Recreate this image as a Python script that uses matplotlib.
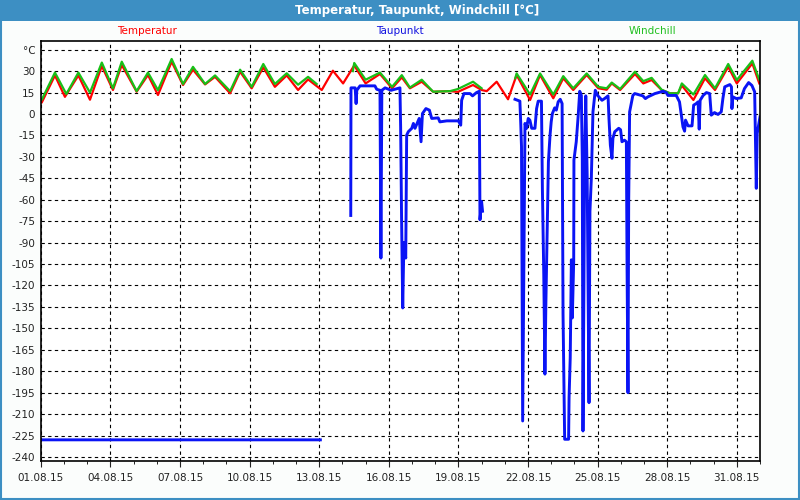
import matplotlib
matplotlib.use("Agg")
import matplotlib.pyplot as plt
import matplotlib.dates as mdates
from matplotlib.patches import Rectangle
import numpy as np
import pandas as pd

start = pd.Timestamp("2015-08-01")
nan = np.nan

# Temperatur (red), times in days since 01.08.15 00:00
temp_days = [0.0, 0.04, 0.61, 1.04, 1.62, 2.12, 2.63, 3.11, 3.49, 4.13, 4.62, 5.05,
             5.64, 6.13, 6.56, 7.08, 7.51, 8.16, 8.59, 9.09, 9.59, 10.09, 10.60,
             11.09, 11.52, 12.11, 12.59, 13.03, 13.51, 14.0, 14.62, 15.14, 15.56,
             15.91, 16.42, 16.91, 17.64, 17.98, 18.63, 19.00, 19.22, 19.65, 20.14,
             20.51, 21.09, 21.52, 22.09, 22.52, 22.95, 23.53, 24.03, 24.39, 24.61,
             24.97, 25.61, 25.97, 26.33, 26.76, 27.12, 27.47, 27.63, 28.13, 28.63,
             29.06, 29.63, 30.0, 30.67, 30.97]
temp_vals = [8.6, 8.0, 27.0, 12.0, 27.0, 10.0, 33.6, 16.8, 34.3, 15.6, 27.3, 13.3,
             36.6, 20.3, 31.0, 20.7, 26.0, 14.5, 29.6, 18.0, 32.6, 19.0, 27.0,
             16.8, 24.2, 16.8, 30.3, 21.4, 34.0, 21.4, 28.0, 18.0, 25.6,
             18.0, 22.6, 15.6, 16.0, 15.5, 20.3, 16.8, 16.0, 22.6, 10.3,
             27.3, 9.8, 27.3, 11.0, 25.0, 16.8, 27.3, 18.0, 17.0, 21.4,
             16.8, 28.0, 21.4, 23.8, 16.8, 14.5, 14.5, 20.0, 9.8, 25.0,
             16.8, 33.0, 21.4, 35.4, 21.4]

# Windchill (green), gaps as nan
wc_days = [0.0, 0.04, 0.61, 1.10, 1.62, 2.12, 2.63, 3.11, 3.49, 4.13, 4.62, 5.05,
           5.64, 6.13, 6.56, 7.08, 7.51, 8.16, 8.59, 9.09, 9.59, 10.09, 10.60,
           11.09, 11.52, 11.89, 11.90, 13.45, 13.51, 14.0, 14.62, 15.14, 15.56,
           15.91, 16.42, 16.91, 17.64, 17.98, 18.63, 19.00, 19.01, 20.45, 20.51,
           21.09, 21.52, 22.09, 22.52, 22.95, 23.53, 24.03, 24.39, 24.61, 24.97,
           25.61, 25.97, 26.33, 26.76, 27.12, 27.47, 27.63, 28.13, 28.63, 29.06,
           29.63, 30.0, 30.67, 30.97]
wc_vals = [10.0, 10.0, 29.0, 14.0, 29.0, 15.0, 36.0, 18.0, 36.6, 16.0, 29.0, 16.7,
           38.5, 21.0, 33.0, 21.0, 27.0, 16.0, 31.0, 19.0, 35.0, 21.0, 28.5,
           20.5, 26.0, 21.0, nan, 30.0, 35.7, 24.0, 29.0, 19.0, 27.2,
           18.5, 24.0, 15.6, 16.0, 17.5, 22.6, 18.0, nan, 25.0, 28.4,
           13.6, 28.4, 13.6, 26.5, 18.0, 28.4, 19.0, 18.0, 22.0, 17.5,
           29.6, 23.0, 25.3, 17.0, 14.5, 14.5, 21.4, 13.6, 27.3, 18.0,
           35.0, 23.8, 37.3, 24.0]

# Taupunkt (blue)
dew_days = [0.0, 12.05, 12.06,
            13.36, 13.37, 13.55, 13.59, 13.62, 13.76, 14.4, 14.48, 14.62, 14.66, 14.70,
            14.84, 15.1, 15.3, 15.48, 15.51, 15.55, 15.6, 15.65, 15.73, 15.77, 15.84,
            15.99, 16.06, 16.13, 16.31, 16.39, 16.45, 16.6, 16.75, 16.85, 17.13, 17.2,
            17.5, 18.0, 18.1, 18.14, 18.24, 18.5, 18.61, 18.78, 18.9, 18.93, 19.0,
            19.04, 19.05,
            20.44, 20.65, 20.69, 20.72, 20.77, 20.82, 20.87, 20.94, 21.01, 21.08,
            21.16, 21.3, 21.37, 21.44, 21.58, 21.62, 21.68, 21.73, 21.77, 21.82,
            21.88, 21.95, 22.0, 22.05, 22.15, 22.22, 22.3, 22.39, 22.47, 22.51,
            22.58, 22.75, 22.77, 22.82, 22.87, 22.91, 22.97, 22.98, 23.08, 23.16,
            23.23, 23.3, 23.34, 23.37, 23.41, 23.44, 23.49, 23.55, 23.59, 23.63,
            23.67, 23.73, 23.8, 23.9, 24.0, 24.19, 24.3, 24.45, 24.49, 24.55,
            24.62, 24.66, 24.74, 24.91, 24.99, 25.05, 25.16, 25.24, 25.27, 25.31,
            25.34, 25.38, 25.45, 25.52, 25.6, 25.95, 26.06, 26.17, 26.47, 26.82,
            26.96, 27.03, 27.39, 27.53, 27.68, 27.75, 27.79, 27.9, 28.07, 28.14,
            28.25, 28.33, 28.38, 28.42, 28.55, 28.69, 28.83, 28.9, 29.04, 29.19,
            29.33, 29.4, 29.48, 29.7, 29.77, 29.79, 29.83, 29.98, 30.19, 30.33,
            30.51, 30.65, 30.77, 30.8, 30.84, 30.88, 30.94, 31.0]
dew_vals = [-228, -228, nan,
            -71, 18.3, 18.3, 7.3, 16.6, 19.7, 19.7, 17.3, 16.6, -100.8, 16.6,
            18.3, 16.6, 17.5, 18.3, -9, -71.8, -135.7, -90, -100.8, -14.8, -12.4,
            -10, -6.6, -10, -3.1, -19.4, 0.3, 3.8, 2.7, -3.1, -2.7, -5.5,
            -4.8, -4.8, -7.8, 9.6, 14.3, 14.3, 12.7, 15.0, 15.9, -74, -61.3,
            -68, nan,
            10.3, 9.0, -7.8, -22.9, -214.8, -112, -6.6, -10, -3.1, -4.3,
            -10, -10, 3.8, 9.0, 9.0, -52, -112.5, -182, -133, -87,
            -33.4, -14.8, -5.5, 0.3, 4.3, 2.7, 8.5, 10.3, 7.3, -140,
            -227.6, -227.6, -198.5, -170.6, -102, -142.7, -103, -32.2, -19.4, -2,
            15.9, 13, -31, -221.8, -121.8, -32.2, 12.7, -42.7, -124, -202,
            -68, -45, 1.5, 16.6, 13, 9.6, 10.8, 12.7, -3.1, -21.8,
            -31, -17, -12.4, -10, -11, -19.4, -18.3, -19.4, -106.6, -195,
            -61.3, 1.5, 7.3, 13, 14.3, 12.7, 10.8, 12, 14.3, 15.9,
            15, 13, 13, 8.5, -9, -12, -4.3, -8.3, -8.3, 6.2,
            7.3, 8.5, -10.6, 9.6, 13, 15, 14.3, -0.8, 1, -0.3,
            1.5, 10.8, 19, 20.6, 19, 3.8, 12, 10.8, 11.3, 17.8,
            22, 20, 15.5, -14.8, -52, -13.6, -7.8, -2]

x_tick_days = list(range(0, 31, 3))
y_ticks = list(range(-240, 31, 15)) + [45]
y_labels = [str(v) for v in range(-240, 31, 15)] + ["°C"]


def to_time(days):
    return start + pd.to_timedelta(days, unit="D")


bar_blue = "#3d8fc3"
red = "#ff0000"
green = "#18c018"
blue = "#0a14f5"

fig = plt.figure(figsize=(8, 5), dpi=100, facecolor="#fbfdfc")
ax = fig.add_axes([0.051, 0.0786, 0.899, 0.84])

ax.plot(to_time(temp_days), temp_vals, color=red, lw=1.6)
ax.plot(to_time(wc_days), wc_vals, color=green, lw=1.6)
ax.plot(to_time(dew_days), dew_vals, color=blue, lw=2.1)

ax.set_xlim(start, start + pd.Timedelta(days=31))
ax.set_ylim(-242.6, 51.3)
ax.set_yticks(y_ticks)
ax.set_yticklabels(y_labels)

ax.set_xticks(mdates.date2num(to_time(x_tick_days)))
ax.xaxis.set_major_formatter(mdates.DateFormatter("%d.%m.%y"))
ax.xaxis.set_minor_locator(mdates.DayLocator())

ax.grid(True, which="major", color="black", linestyle=(0, (3, 3)), linewidth=0.8)
ax.tick_params(axis="x", which="major", length=4, width=0.8, pad=5,
               labelsize=7.5, colors="#222222")
ax.tick_params(axis="x", which="minor", length=2, width=0.6)
ax.tick_params(axis="y", length=0, pad=4, labelsize=7.5, colors="#222222")
for s in ax.spines.values():
    s.set_color("black")
    s.set_linewidth(1.2)
ax.set_facecolor("white")

# title bar and window border
fig.patches.append(Rectangle((0, 1 - 21 / 500), 1, 21 / 500, transform=fig.transFigure,
                             facecolor=bar_blue, edgecolor="none", zorder=0))
fig.patches.append(Rectangle((0.001, 0.002), 0.998, 0.99, transform=fig.transFigure,
                             facecolor="none", edgecolor=bar_blue, linewidth=1.5, zorder=0))
fig.text(0.521, 1 - 10.5 / 500, "Temperatur, Taupunkt, Windchill [°C]", color="white",
         fontsize=8.5, fontweight="bold", ha="center", va="center",
         family=["Liberation Sans Narrow", "DejaVu Sans"])

# series labels
fig.text(147 / 800, 1 - 31 / 500, "Temperatur", color=red, fontsize=7.5, ha="center", va="center")
fig.text(400 / 800, 1 - 31 / 500, "Taupunkt", color="#1010e0", fontsize=7.5, ha="center", va="center")
fig.text(652 / 800, 1 - 31 / 500, "Windchill", color="#20c020", fontsize=7.5, ha="center", va="center")

fig.savefig("out.png", dpi=100, facecolor=fig.get_facecolor())
